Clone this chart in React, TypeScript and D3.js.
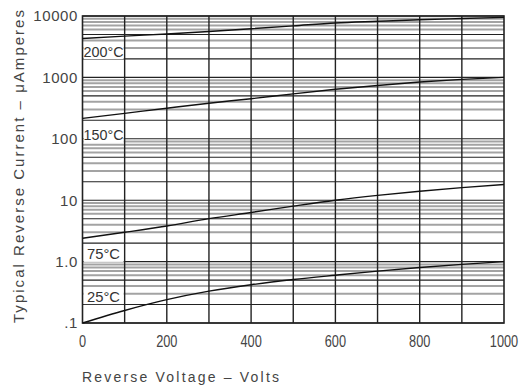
import { useEffect, useRef } from 'react'
import * as d3 from 'd3'

// reverse voltage (V)
const voltages = [0, 100, 200, 300, 400, 500, 600, 700, 800, 900, 1000]

// typical reverse current (uA) per junction temperature
const current25 = [0.1, 0.16, 0.24, 0.33, 0.42, 0.51, 0.6, 0.7, 0.8, 0.9, 1.0]
const current75 = [2.4, 3.0, 3.8, 5.0, 6.3, 8.0, 10, 12, 14, 16, 18]
const current150 = [215, 260, 315, 380, 450, 540, 640, 740, 840, 930, 1000]
const current200 = [4300, 4700, 5100, 5600, 6200, 6900, 7700, 8200, 8700, 9100, 9500]

const seriesLabels = ['25°C', '75°C', '150°C', '200°C']
// value at which the top of each label box sits
const labelTops = [0.37, 1.8, 156, 3630]

const xTicks = [0, 200, 400, 600, 800, 1000]
const yTicks = [0.1, 1, 10, 100, 1000, 10000]
const yTickLabels = ['.1', '1.0', '10', '100', '1000', '10000']

const W = 524
const H = 389
const sans = "'Liberation Sans', Arial, sans-serif"

export default function App() {
  const svgRef = useRef<SVGSVGElement>(null)

  useEffect(() => {
    if (!svgRef.current) return
    const svg = d3.select(svgRef.current)
    svg.selectAll('*').remove()

    const left = 82.5
    const right = 504
    const top = 16
    const bottom = 323

    const x = d3.scaleLinear().domain([0, 1000]).range([left, right])
    const y = d3.scaleLog().domain([0.1, 10000]).range([bottom, top])

    svg.append('rect').attr('width', W).attr('height', H).attr('fill', '#fff')

    const g = svg.append('g')

    // horizontal log grid: decades, 2x and 5x in black, the rest gray
    const minor: number[] = []
    const major: number[] = []
    for (let e = -1; e < 4; e++) {
      for (let k = 1; k <= 9; k++) {
        const v = k * Math.pow(10, e)
        if (k === 1 || k === 2 || k === 5) major.push(v)
        else minor.push(v)
      }
    }
    major.push(10000)

    g.selectAll('line.minor')
      .data(minor)
      .join('line')
      .attr('class', 'minor')
      .attr('x1', left)
      .attr('x2', right)
      .attr('y1', d => y(d))
      .attr('y2', d => y(d))
      .attr('stroke', '#a3a3a3')
      .attr('stroke-width', 2)

    g.selectAll('line.major')
      .data(major)
      .join('line')
      .attr('class', 'major')
      .attr('x1', left)
      .attr('x2', right)
      .attr('y1', d => y(d))
      .attr('y2', d => y(d))
      .attr('stroke', '#222')
      .attr('stroke-width', 1.1)

    // white label boxes in the first column
    const labelG = g.append('g')
    seriesLabels.forEach((lab, i) => {
      const yt = y(labelTops[i])
      labelG.append('rect')
        .attr('x', left + 1)
        .attr('y', yt)
        .attr('width', x(100) - left - 2)
        .attr('height', 16)
        .attr('fill', '#fff')
      labelG.append('text')
        .attr('x', i < 2 ? left + 4.5 : left + 1)
        .attr('y', yt + 13.5)
        .attr('font-family', sans)
        .attr('font-size', 15)
        .attr('fill', '#333')
        .attr('textLength', i < 2 ? 33 : 40)
        .attr('lengthAdjust', 'spacingAndGlyphs')
        .text(lab)
    })

    // vertical grid every 100 V
    g.selectAll('line.vert')
      .data(d3.range(100, 1000, 100))
      .join('line')
      .attr('class', 'vert')
      .attr('x1', d => x(d))
      .attr('x2', d => x(d))
      .attr('y1', top)
      .attr('y2', bottom)
      .attr('stroke', '#222')
      .attr('stroke-width', 1.4)

    // frame
    g.append('rect')
      .attr('x', left)
      .attr('y', top)
      .attr('width', right - left)
      .attr('height', bottom - top)
      .attr('fill', 'none')
      .attr('stroke', '#222')
      .attr('stroke-width', 1.6)

    // curves
    const line = d3.line<number>()
      .x((_, i) => x(voltages[i]))
      .y(d => y(d))
      .curve(d3.curveMonotoneX)

    ;[current25, current75, current150, current200].forEach(s => {
      g.append('path')
        .datum(s)
        .attr('d', line)
        .attr('fill', 'none')
        .attr('stroke', '#111')
        .attr('stroke-width', 1.4)
    })

    // y tick labels
    svg.selectAll('text.ytick')
      .data(yTicks)
      .join('text')
      .attr('class', 'ytick')
      .attr('x', 78)
      .attr('y', d => y(d))
      .attr('dy', '0.36em')
      .attr('text-anchor', 'end')
      .attr('font-family', sans)
      .attr('font-size', 15)
      .attr('fill', '#444')
      .attr('letter-spacing', 0.6)
      .text((_, i) => yTickLabels[i])

    // x tick labels (condensed look)
    svg.selectAll('text.xtick')
      .data(xTicks)
      .join('text')
      .attr('class', 'xtick')
      .attr('x', d => x(d))
      .attr('y', 347)
      .attr('text-anchor', 'middle')
      .attr('font-family', sans)
      .attr('font-size', 16)
      .attr('fill', '#444')
      .attr('textLength', d => String(d).length * 7.1)
      .attr('lengthAdjust', 'spacingAndGlyphs')
      .text(d => String(d))

    // axis titles
    svg.append('text')
      .attr('x', 82)
      .attr('y', 382)
      .attr('font-family', sans)
      .attr('font-size', 14)
      .attr('fill', '#444')
      .attr('textLength', 197)
      .attr('lengthAdjust', 'spacing')
      .text('Reverse  Voltage  –  Volts')

    svg.append('text')
      .attr('transform', 'translate(24,166.5) rotate(-90)')
      .attr('text-anchor', 'middle')
      .attr('font-family', sans)
      .attr('font-size', 15)
      .attr('fill', '#444')
      .attr('textLength', 313)
      .attr('lengthAdjust', 'spacing')
      .text('Typical  Reverse  Current  –  μAmperes')
  }, [])

  return (
    <svg
      ref={svgRef}
      width={W}
      height={H}
      style={{ position: 'absolute', left: 0, top: 0, display: 'block' }}
    />
  )
}
